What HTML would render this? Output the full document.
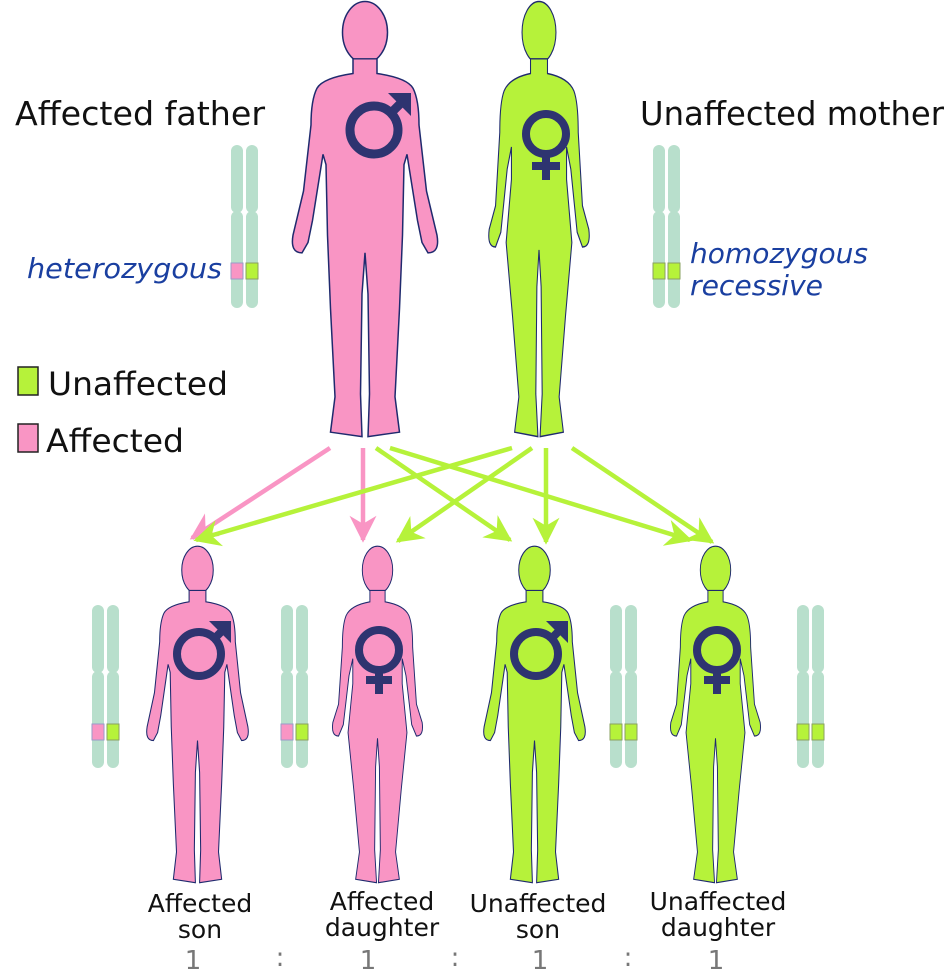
<!DOCTYPE html>
<html><head><meta charset="utf-8"><style>
body{margin:0;background:#fff}
svg{display:block}
text{font-family:"DejaVu Sans","Liberation Sans",sans-serif}
</style></head><body>
<svg width="949" height="970" viewBox="0 0 949 970" xmlns="http://www.w3.org/2000/svg">
<defs>
<g id="man">
<ellipse cx="50" cy="22" rx="15" ry="21"/>
<path d="M42,40 L42,50 Q22,53 18,60 Q14,68 14,85 L9,130 L2,160 Q0,172 8,172 L12,165 L15,150 L22,105 L24,112 L25,160 L27,210 L30,270 L27,294 L48,297 L47,268 L48,200 L50,172 L52,200 L53,268 L52,297 L73,294 L70,270 L73,210 L75,160 L76,112 L78,105 L85,150 L88,165 L92,172 Q100,172 98,160 L91,130 L86,85 Q86,68 82,60 Q78,53 58,50 L58,40 Z"/>
</g>
<g id="woman">
<ellipse cx="50" cy="22" rx="16" ry="21"/>
<path d="M42,40 L42,50 Q22,53 17,62 Q13,70 13,90 L9,140 L3,156 Q1,168 9,168 L14,158 L20,115 L24,100 L24,122 L19,165 L25,215 L31,270 L27,294 L49,297 L47,268 L48,195 L50,170 L52,195 L53,268 L51,297 L73,294 L69,270 L75,215 L81,165 L76,122 L76,100 L80,115 L86,158 L91,168 Q99,168 97,156 L91,140 L87,90 Q87,70 83,62 Q78,53 58,50 L58,40 Z"/>
</g>
<g id="chrom">
<rect x="0" y="0" width="12" height="68" rx="6" fill="#b8dfcc"/>
<rect x="15" y="0" width="12" height="68" rx="6" fill="#b8dfcc"/>
<rect x="0" y="66" width="12" height="97" rx="6" fill="#b8dfcc"/>
<rect x="15" y="66" width="12" height="97" rx="6" fill="#b8dfcc"/>
</g>
<marker id="ag" viewBox="0 0 10 10" refX="9" refY="5" markerWidth="6" markerHeight="6" orient="auto"><path d="M0,0 L10,5 L0,10 L3,5 Z" fill="#b6f23a"/></marker>
<marker id="ap" viewBox="0 0 10 10" refX="9" refY="5" markerWidth="6" markerHeight="6" orient="auto"><path d="M0,0 L10,5 L0,10 L3,5 Z" fill="#f995c4"/></marker>
</defs>

<use href="#man" transform="translate(290,0) scale(1.5,1.47)" fill="#f995c4" stroke="#1f2a6e" stroke-width="1"/>
<use href="#woman" transform="translate(486,0) scale(1.06,1.47)" fill="#b6f23a" stroke="#1f2a6e" stroke-width="1"/>

<use href="#man" transform="translate(145,545) scale(1.05,1.137)" fill="#f995c4" stroke="#1f2a6e" stroke-width="1"/>
<use href="#woman" transform="translate(330,545) scale(0.95,1.137)" fill="#f995c4" stroke="#1f2a6e" stroke-width="1"/>
<use href="#man" transform="translate(482,545) scale(1.05,1.137)" fill="#b6f23a" stroke="#1f2a6e" stroke-width="1"/>
<use href="#woman" transform="translate(668,545) scale(0.95,1.137)" fill="#b6f23a" stroke="#1f2a6e" stroke-width="1"/>

<g stroke="#2e3470" fill="none">
<circle cx="374" cy="130" r="24" stroke-width="9"/>
<line x1="391" y1="113" x2="406" y2="98" stroke-width="9"/>
<path d="M388,93 L411,93 L411,116 Z" fill="#2e3470" stroke="none"/>
<circle cx="546" cy="134" r="20" stroke-width="8"/>
<line x1="546" y1="154" x2="546" y2="180" stroke-width="8"/>
<line x1="532" y1="166" x2="560" y2="166" stroke-width="8"/>

<circle cx="199" cy="654" r="22" stroke-width="8"/>
<line x1="215" y1="638" x2="226" y2="627" stroke-width="8"/>
<path d="M209,621 L231,621 L231,643 Z" fill="#2e3470" stroke="none"/>
<circle cx="536" cy="654" r="22" stroke-width="8"/>
<line x1="552" y1="638" x2="563" y2="627" stroke-width="8"/>
<path d="M546,621 L568,621 L568,643 Z" fill="#2e3470" stroke="none"/>

<circle cx="379" cy="650" r="20" stroke-width="8"/>
<line x1="379" y1="670" x2="379" y2="694" stroke-width="8"/>
<line x1="366" y1="680" x2="392" y2="680" stroke-width="8"/>
<circle cx="717" cy="650" r="20" stroke-width="8"/>
<line x1="717" y1="670" x2="717" y2="694" stroke-width="8"/>
<line x1="704" y1="680" x2="730" y2="680" stroke-width="8"/>
</g>

<g stroke-width="4.5" fill="none">
<line x1="330" y1="448" x2="192" y2="538" stroke="#f995c4" marker-end="url(#ap)"/>
<line x1="363" y1="448" x2="363" y2="540" stroke="#f995c4" marker-end="url(#ap)"/>
<line x1="376" y1="448" x2="510" y2="540" stroke="#b6f23a" marker-end="url(#ag)"/>
<line x1="390" y1="448" x2="690" y2="540" stroke="#b6f23a" marker-end="url(#ag)"/>
<line x1="512" y1="448" x2="196" y2="540" stroke="#b6f23a" marker-end="url(#ag)"/>
<line x1="532" y1="448" x2="398" y2="541" stroke="#b6f23a" marker-end="url(#ag)"/>
<line x1="546" y1="448" x2="546" y2="542" stroke="#b6f23a" marker-end="url(#ag)"/>
<line x1="572" y1="448" x2="712" y2="542" stroke="#b6f23a" marker-end="url(#ag)"/>
</g>

<use href="#chrom" transform="translate(231,145)"/>
<rect x="231" y="263" width="12" height="16" fill="#f995c4" stroke="#9a9ac8" stroke-width="1"/>
<rect x="246" y="263" width="12" height="16" fill="#b6f23a" stroke="#8aa060" stroke-width="1"/>
<use href="#chrom" transform="translate(653,145)"/>
<rect x="653" y="263" width="12" height="16" fill="#b6f23a" stroke="#8aa060" stroke-width="1"/>
<rect x="668" y="263" width="12" height="16" fill="#b6f23a" stroke="#8aa060" stroke-width="1"/>

<use href="#chrom" transform="translate(92,605)"/>
<rect x="92" y="724" width="12" height="16" fill="#f995c4" stroke="#9a9ac8"/>
<rect x="107" y="724" width="12" height="16" fill="#b6f23a" stroke="#8aa060"/>
<use href="#chrom" transform="translate(281,605)"/>
<rect x="281" y="724" width="12" height="16" fill="#f995c4" stroke="#9a9ac8"/>
<rect x="296" y="724" width="12" height="16" fill="#b6f23a" stroke="#8aa060"/>
<use href="#chrom" transform="translate(610,605)"/>
<rect x="610" y="724" width="12" height="16" fill="#b6f23a" stroke="#8aa060"/>
<rect x="625" y="724" width="12" height="16" fill="#b6f23a" stroke="#8aa060"/>
<use href="#chrom" transform="translate(797,605)"/>
<rect x="797" y="724" width="12" height="16" fill="#b6f23a" stroke="#8aa060"/>
<rect x="812" y="724" width="12" height="16" fill="#b6f23a" stroke="#8aa060"/>

<rect x="18" y="367" width="20" height="28" fill="#b6f23a" stroke="#222" stroke-width="1.5"/>
<rect x="18" y="424" width="20" height="28" fill="#f995c4" stroke="#222" stroke-width="1.5"/>
<text x="48" y="395" font-size="32" fill="#111" textLength="180" lengthAdjust="spacingAndGlyphs">Unaffected</text>
<text x="46" y="452" font-size="32" fill="#111" textLength="138" lengthAdjust="spacingAndGlyphs">Affected</text>

<text x="15" y="125" font-size="33" fill="#111" textLength="250" lengthAdjust="spacingAndGlyphs">Affected father</text>
<text x="640" y="125" font-size="33" fill="#111" textLength="304" lengthAdjust="spacingAndGlyphs">Unaffected mother</text>
<text x="27" y="278" font-size="28" font-style="italic" fill="#1a3fa0" textLength="195" lengthAdjust="spacingAndGlyphs">heterozygous</text>
<text x="690" y="263" font-size="28" font-style="italic" fill="#1a3fa0" textLength="178" lengthAdjust="spacingAndGlyphs">homozygous</text>
<text x="690" y="295" font-size="28" font-style="italic" fill="#1a3fa0" textLength="133" lengthAdjust="spacingAndGlyphs">recessive</text>

<g font-size="25" fill="#111" text-anchor="middle">
<text x="200" y="912">Affected</text><text x="200" y="938">son</text>
<text x="382" y="910">Affected</text><text x="382" y="936">daughter</text>
<text x="538" y="912">Unaffected</text><text x="538" y="938">son</text>
<text x="718" y="910">Unaffected</text><text x="718" y="936">daughter</text>
</g>
<g font-size="26" fill="#777" text-anchor="middle">
<text x="193" y="969">1</text><text x="280" y="966">:</text>
<text x="368" y="969">1</text><text x="455" y="966">:</text>
<text x="540" y="969">1</text><text x="628" y="966">:</text>
<text x="716" y="969">1</text>
</g>
</svg>
</body></html>
